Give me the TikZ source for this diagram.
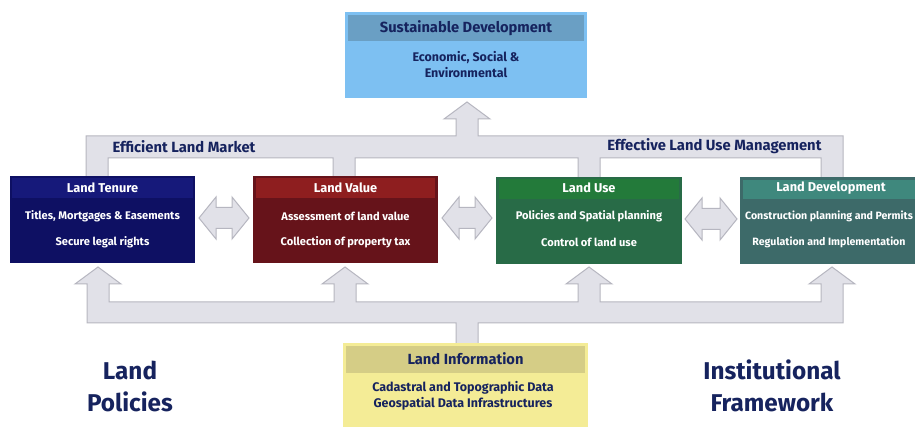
\documentclass[tikz,border=0pt]{standalone}
\usepackage{fontspec}
\setmainfont{Fira Sans}
\definecolor{navy}{HTML}{16235E}
\definecolor{arrowfill}{HTML}{E1E1E8}
\definecolor{arrowline}{HTML}{B6B6C0}
\definecolor{sdbody}{HTML}{7DC0F2}
\definecolor{sdhead}{HTML}{6A9FC4}
\definecolor{tenbody}{HTML}{0E1063}
\definecolor{tenhead}{HTML}{16197A}
\definecolor{valbody}{HTML}{66131A}
\definecolor{valhead}{HTML}{8E1E1F}
\definecolor{usebody}{HTML}{286B47}
\definecolor{usehead}{HTML}{237A3A}
\definecolor{devbody}{HTML}{3D6A69}
\definecolor{devhead}{HTML}{3F887D}
\definecolor{infbody}{HTML}{F4EC96}
\definecolor{infhead}{HTML}{D5CD86}
\newcommand\dbarrow[3]{%
  \draw[arrowshape] (#1,#3) -- (#1+17,#3-21) -- (#1+17,#3-10.5) -- (#2-17,#3-10.5) -- (#2-17,#3-21) -- (#2,#3) -- (#2-17,#3+21) -- (#2-17,#3+10.5) -- (#1+17,#3+10.5) -- (#1+17,#3+21) -- cycle;}
\begin{document}
\begin{tikzpicture}[x=1pt,y=-1pt,
  arrowshape/.style={fill=arrowfill,draw=arrowline,line width=1pt,line join=miter},
  boxnode/.style={rectangle,inner sep=0pt,outer sep=0pt,draw=none},
  whtitle/.style={text=white,font=\bfseries\fontsize{12.8}{15}\selectfont},
  whbody/.style={text=white,font=\bfseries\fontsize{11.1}{12}\selectfont},
  devbody/.style={text=white,font=\bfseries\fontsize{10.6}{12}\selectfont},
  nvtitle/.style={text=navy,font=\bfseries\fontsize{14.7}{16}\selectfont},
  nvbody/.style={text=navy,font=\bfseries\fontsize{12.5}{15.5}\selectfont,align=center},
  biglabel/.style={text=navy,font=\bfseries\fontsize{24.3}{32}\selectfont,align=center},
  barlabel/.style={text=navy,font=\bfseries\fontsize{14.8}{16}\selectfont}]
\clip (0,0) rectangle (915,427);
\fill[white] (0,0) rectangle (915,427);
% upper connector
\draw[arrowshape] (86,178) -- (86,136) -- (456,136) -- (456,119) -- (444,119) -- (467,102) -- (490,119) -- (478,119) -- (478,136) -- (843,136) -- (843,178) -- (821,178) -- (821,158) -- (600,158) -- (600,178) -- (578,178) -- (578,158) -- (355,158) -- (355,178) -- (333,178) -- (333,158) -- (108,158) -- (108,178) -- cycle;
% lower connector
\draw[arrowshape] (456,345) -- (456,323) -- (87,323) -- (87,284) -- (75,284) -- (98,267) -- (121,284) -- (109,284) -- (109,302) -- (334,302) -- (334,284) -- (322,284) -- (345,267) -- (368,284) -- (356,284) -- (356,302) -- (578,302) -- (578,284) -- (566,284) -- (589,267) -- (612,284) -- (600,284) -- (600,302) -- (821,302) -- (821,284) -- (809,284) -- (832,267) -- (855,284) -- (843,284) -- (843,323) -- (478,323) -- (478,345) -- cycle;
% double arrows
\dbarrow{199}{249}{218}
\dbarrow{442}{492}{218}
\dbarrow{685}{737}{219}
% Sustainable development
\node[boxnode,fill=sdbody,minimum width=242,minimum height=86] (sd) at (466,55) {};
\fill[sdhead] (348,15) rectangle (584,41);
\node[nvtitle] (sdT) at (466,28) {Sustainable Development};
\node[nvbody] (sdB) at (466,64.5) {Economic, Social \&\\Environmental};
% Land Tenure
\node[boxnode,fill=tenbody,minimum width=185,minimum height=87] (ten) at (102.5,220) {};
\fill[tenhead] (12,178) rectangle (193,198);
\node[whtitle] (tenT) at (102.5,188) {Land Tenure};
\node[whbody] (tenB1) at (102.5,216) {Titles, Mortgages \& Easements};
\node[whbody] (tenB2) at (102.5,242) {Secure legal rights};
% Land Value
\node[boxnode,fill=valbody,minimum width=185,minimum height=87] (val) at (345.5,220) {};
\fill[valhead] (256,178) rectangle (435,198);
\node[whtitle] (valT) at (345.5,188) {Land Value};
\node[whbody] (valB1) at (345.5,216) {Assessment of land value};
\node[whbody] (valB2) at (345.5,242) {Collection of property tax};
% Land Use
\node[boxnode,fill=usebody,minimum width=186,minimum height=87] (use) at (589,220.5) {};
\fill[usehead] (499,179) rectangle (679,199);
\node[whtitle] (useT) at (589,188) {Land Use};
\node[whbody] (useB1) at (589,216) {Policies and Spatial planning};
\node[whbody] (useB2) at (589,242) {Control of land use};
% Land Development
\node[boxnode,fill=devbody,minimum width=186,minimum height=87] (dev) at (833,221) {};
\fill[devhead] (743,180) rectangle (923,199);
\node[whtitle] (devT) at (831,188) {Land Development};
\node[devbody] (devB1) at (829,216) {Construction planning and Permits};
\node[devbody] (devB2) at (829,242) {Regulation and Implementation};
% Land Information
\node[boxnode,fill=infbody,minimum width=245,minimum height=84] (inf) at (465.5,385) {};
\fill[infhead] (346,346) rectangle (585,373);
\node[nvtitle] (infT) at (465.5,359) {Land Information};
\node[nvbody] (infB) at (463,396) {Cadastral and Topographic Data\\Geospatial Data Infrastructures};
% bar labels
\node[barlabel,anchor=west] (elm) at (109,147) {Efficient Land Market};
\node[barlabel,anchor=east] (elum) at (825,146) {Effective Land Use Management};
% big labels
\node[biglabel] (pol) at (130,386) {Land\\Policies};
\node[biglabel] (inst) at (772,386) {Institutional\\Framework};
\end{tikzpicture}
\end{document}
